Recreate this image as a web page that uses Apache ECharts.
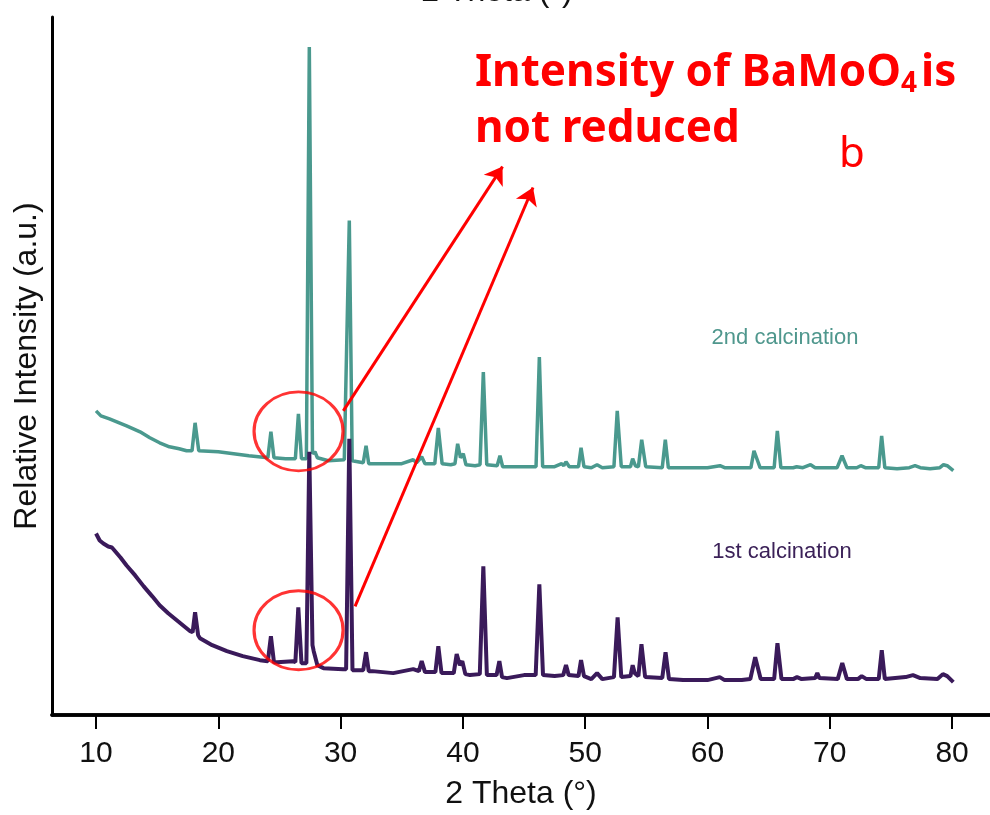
<!DOCTYPE html>
<html>
<head>
<meta charset="utf-8">
<script src="https://cdn.jsdelivr.net/npm/echarts@6/dist/echarts.min.js"></script>
<style>
  html, body { margin: 0; padding: 0; background: #fff; }
  #chart { width: 990px; height: 815px; }
</style>
</head>
<body>
<div id="chart"></div>
<script>
// XRD patterns, [2θ, relative intensity]
const secondCalcination = [
  [10.0, 305], [10.4, 300], [11.1, 297], [12.5, 290], [13.6, 284], [14.4, 278], [15.2, 273], [16.0, 269],
  [16.8, 267], [17.4, 265],
  [17.85, 265], [18.1, 293], [18.4, 265], [20.0, 264], [22.5, 260],
  [24.05, 258], [24.3, 284], [24.55, 258], [25.5, 257],
  [26.3, 257], [26.55, 302], [26.8, 257],
  [27.2, 257], [27.44, 670], [27.7, 262], [27.9, 264], [28.1, 258],
  [29.0, 255], [30.3, 256], [30.45, 256], [30.71, 496], [30.95, 255],
  [31.85, 253], [32.08, 270], [32.3, 252], [33.5, 252], [35.0, 252],
  [35.94, 256], [36.2, 253], [36.63, 259], [36.9, 252],
  [37.7, 252], [37.99, 288], [38.3, 252], [39.0, 251],
  [39.35, 252], [39.57, 272], [39.8, 258], [40.03, 262], [40.25, 251], [41.0, 250],
  [41.4, 251], [41.67, 344], [41.95, 251],
  [42.8, 250], [43.03, 260], [43.25, 249], [44.5, 249], [45.8, 249],
  [45.98, 249], [46.25, 359], [46.52, 249], [47.5, 249],
  [48.08, 252], [48.25, 250], [48.43, 254], [48.7, 249],
  [49.45, 249], [49.66, 268], [49.9, 249],
  [50.5, 248], [50.97, 251], [51.4, 248],
  [52.35, 249], [52.62, 305], [52.95, 249],
  [53.7, 249], [53.88, 257], [54.1, 250],
  [54.35, 249], [54.62, 276], [54.95, 249],
  [56.3, 248], [56.55, 276], [56.8, 248], [58.0, 248], [60.0, 248],
  [61.02, 250], [61.4, 248], [63.0, 248],
  [63.55, 248], [63.8, 265], [63.95, 266], [64.3, 248],
  [65.45, 248], [65.71, 285], [66.0, 248],
  [67.0, 248], [67.29, 249], [67.8, 248], [68.43, 251], [68.8, 248], [69.8, 248],
  [70.6, 248], [71.0, 260], [71.4, 248],
  [72.2, 248], [72.53, 250], [72.9, 248],
  [74.0, 248], [74.24, 280], [74.5, 248], [75.5, 247],
  [76.5, 248], [76.97, 250], [77.4, 248], [78.2, 247],
  [79.0, 248], [79.3, 251], [79.6, 250], [80.1, 245]
];

const firstCalcination = [
  [10.0, 182], [10.3, 175], [10.6, 172], [11.0, 169], [11.3, 168], [12.0, 158], [12.5, 150], [13.2, 140],
  [13.9, 129], [14.6, 119], [15.2, 110], [15.9, 102], [16.6, 95], [17.2, 89], [17.7, 84],
  [17.9, 83], [18.1, 103], [18.35, 80], [18.5, 77], [19.5, 70], [20.7, 64], [22.0, 59], [23.4, 55],
  [24.05, 54], [24.3, 79], [24.55, 53], [24.8, 53], [26.1, 54],
  [26.3, 53], [26.54, 108], [26.8, 52],
  [27.2, 52], [27.44, 264], [27.7, 70], [27.8, 64], [28.1, 50],
  [28.6, 47], [30.2, 46], [30.45, 46], [30.71, 277], [30.97, 45], [31.2, 45],
  [31.85, 45], [32.08, 63], [32.3, 44], [32.6, 44], [34.3, 42],
  [35.94, 46], [36.4, 44], [36.63, 54], [36.9, 43], [37.0, 44],
  [37.75, 43], [37.99, 69], [38.25, 42], [38.7, 42],
  [39.25, 42], [39.49, 61], [39.75, 50], [39.95, 54], [40.2, 41], [40.58, 40],
  [41.38, 41], [41.67, 149], [41.96, 40], [42.2, 40],
  [42.75, 40], [42.98, 54], [43.2, 38], [43.6, 37], [45.0, 40],
  [45.95, 40], [46.25, 131], [46.55, 40], [47.5, 39],
  [48.2, 40], [48.43, 50], [48.65, 40],
  [49.45, 39], [49.66, 55], [49.9, 39],
  [50.5, 36], [50.97, 42], [51.4, 36],
  [52.35, 38], [52.65, 98], [52.95, 38],
  [53.7, 39], [53.88, 50], [54.05, 42],
  [54.35, 39], [54.6, 71], [54.9, 38],
  [56.3, 37], [56.57, 63], [56.85, 36], [58.0, 35], [60.0, 35],
  [61.0, 38], [61.4, 35], [62.8, 35],
  [63.5, 36], [63.9, 58], [64.35, 36],
  [65.45, 36], [65.72, 72], [66.05, 36],
  [67.0, 36], [67.32, 38], [67.7, 36],
  [68.8, 37], [68.98, 42], [69.15, 37],
  [70.65, 36], [71.02, 52], [71.4, 36],
  [72.3, 36], [72.61, 39], [73.0, 36],
  [74.0, 36], [74.25, 65], [74.5, 36],
  [76.2, 38], [76.8, 40], [77.4, 37],
  [78.8, 36], [79.25, 41], [79.6, 39], [80.1, 33]
];

const xTicks = [10, 20, 30, 40, 50, 60, 70, 80];

// circled peaks and arrows, in data units
const circleCenters = [[26.56, 284.5], [26.56, 85]];
const arrows = [
  [[30.22, 305], [43.24, 550]],
  [[31.18, 109], [45.73, 529]]
];

const teal = '#4a998e';
const purple = '#3a1a5a';
const red = '#ff0000';

const chart = echarts.init(document.getElementById('chart'));

const option = {
  animation: false,
  textStyle: { fontFamily: 'Liberation Sans' },
  grid: { left: 52, right: 0, top: 17, bottom: 98 },
  xAxis: [
    {
      type: 'value',
      min: 6.4,
      max: 83.1,
      position: 'bottom',
      name: '2 Theta (°)',
      nameLocation: 'middle',
      nameGap: 63,
      nameTextStyle: { fontSize: 32, color: '#111' },
      axisLine: { show: true, onZero: false, lineStyle: { color: '#000', width: 3.5 } },
      axisTick: { show: true, customValues: xTicks, length: 14, lineStyle: { color: '#000', width: 2 } },
      axisLabel: { customValues: xTicks, fontSize: 30, color: '#111', margin: 24 },
      splitLine: { show: false }
    },
    {
      type: 'value',
      min: 6.4,
      max: 83.1,
      position: 'top',
      axisLine: { show: true, lineStyle: { color: '#000', width: 3.5 } },
      axisTick: { show: false },
      axisLabel: { show: false },
      splitLine: { show: false }
    }
  ],
  yAxis: {
    type: 'value',
    min: 0,
    max: 700,
    name: 'Relative Intensity (a.u.)',
    nameLocation: 'middle',
    nameGap: 9,
    nameTextStyle: { fontSize: 32, color: '#111' },
    axisLine: { show: true, lineStyle: { color: '#000', width: 3 } },
    axisTick: { show: false },
    axisLabel: { show: false },
    splitLine: { show: false }
  },
  series: [
    {
      name: '2nd calcination',
      type: 'line',
      data: secondCalcination,
      showSymbol: false,
      lineStyle: { color: teal, width: 3.5 },
      z: 2,
      markLine: {
        silent: true,
        symbol: ['none', 'arrow'],
        symbolSize: 17,
        label: { show: false },
        lineStyle: { color: red, width: 3, type: 'solid' },
        data: arrows.map(a => [{ coord: a[0] }, { coord: a[1] }])
      }
    },
    {
      name: '1st calcination',
      type: 'line',
      data: firstCalcination,
      showSymbol: false,
      lineStyle: { color: purple, width: 4 },
      z: 3
    },
    {
      type: 'scatter',
      data: circleCenters,
      symbol: 'circle',
      symbolSize: [89, 79],
      itemStyle: { color: 'rgba(0,0,0,0)', borderColor: red, borderWidth: 3 },
      silent: true,
      z: 4
    }
  ],
  graphic: [
    {
      type: 'text', x: 497, y: 8,
      style: { text: '2 Theta (°)', font: '32px "Liberation Sans"', fill: '#111', align: 'center', verticalAlign: 'bottom' }
    },
    {
      type: 'text', x: 475, y: 73,
      style: {
        text: '{a|Intensity of BaMoO}{s|4}{a|is}',
        verticalAlign: 'middle',
        rich: {
          a: { fontFamily: 'Noto Sans', fontWeight: 'bold', fontSize: 44, fill: red, color: red },
          s: { fontFamily: 'Noto Sans', fontWeight: 'bold', fontSize: 28, fill: red, color: red, padding: [22, 4, 0, 0] }
        }
      }
    },
    {
      type: 'text', x: 475, y: 129,
      style: { text: 'not reduced', font: 'bold 44px "Noto Sans"', fill: red, verticalAlign: 'middle' }
    },
    {
      type: 'text', x: 852, y: 155,
      style: { text: 'b', font: '42px "Noto Sans"', fill: red, align: 'center', verticalAlign: 'middle' }
    },
    {
      type: 'text', x: 785, y: 338,
      style: { text: '2nd calcination', font: '22px "Liberation Sans"', fill: '#4f978d', align: 'center', verticalAlign: 'middle' }
    },
    {
      type: 'text', x: 782, y: 552,
      style: { text: '1st calcination', font: '22px "Liberation Sans"', fill: '#3b2158', align: 'center', verticalAlign: 'middle' }
    }
  ]
};

chart.setOption(option);
</script>
</body>
</html>
